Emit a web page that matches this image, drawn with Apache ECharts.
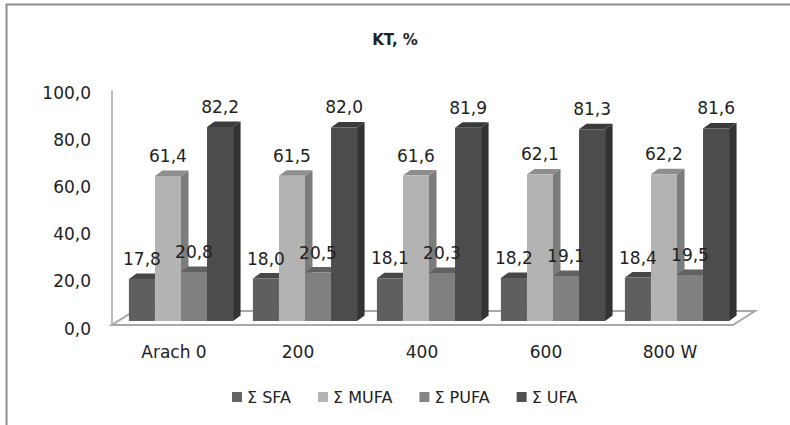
<!DOCTYPE html>
<html>
<head>
<meta charset="utf-8">
<script src="https://cdn.jsdelivr.net/npm/echarts@6/dist/echarts.min.js"></script>
<style>
  html, body { margin: 0; padding: 0; background: #ffffff; }
  #chart { width: 790px; height: 425px; }
</style>
</head>
<body>
<div id="chart"></div>
<script>
// Chart data
const categories = ['Arach 0', '200', '400', '600', '800 W'];
const seriesNames = ['Σ SFA', 'Σ MUFA', 'Σ PUFA', 'Σ UFA'];
const sfa  = [17.8, 18.0, 18.1, 18.2, 18.4];
const mufa = [61.4, 61.5, 61.6, 62.1, 62.2];
const pufa = [20.8, 20.5, 20.3, 19.1, 19.5];
const ufa  = [82.2, 82.0, 81.9, 81.3, 81.6];
const yTicks = [0, 20, 40, 60, 80, 100];

const seriesValues = [sfa, mufa, pufa, ufa];

// Box styling: front / top / side faces for each series
const faces = [
  { front: '#5f5f5f', top: '#474747', side: '#404040', legend: '#646464' },
  { front: '#b3b3b3', top: '#8e8e8e', side: '#7c7c7c', legend: '#b4b4b4' },
  { front: '#808080', top: '#616161', side: '#575757', legend: '#858585' },
  { front: '#4c4c4c', top: '#3a3a3a', side: '#323232', legend: '#505050' }
];

const GRID_LEFT = 119;
const GRID_RIGHT = 51;
const GRID_TOP = 85;
const GRID_BOTTOM = 104;
const BAR_FRAC = 0.21;   // share of a category band taken by one box
const DX = 7.5;          // depth offset of the 3D faces
const DY = -5.5;
const LABEL_GAP = 20;    // distance from the front top edge to the label centre
const FONT = '"DejaVu Sans", sans-serif';
const TEXT_COLOR = '#222222';

function fmt(v) {
  return Number(v).toFixed(1).replace('.', ',');
}

function makeRenderer(idx) {
  return function (params, api) {
    const ci = api.value(0);
    const v = api.value(1);
    const base = api.coord([ci, 0]);
    const topPt = api.coord([ci, v]);
    const w = api.size([1, 0])[0] * BAR_FRAC;
    const x0 = base[0] + (idx - 2) * w;
    const x1 = x0 + w;
    const yb = base[1];
    const yt = topPt[1];
    const c = faces[idx];
    return {
      type: 'group',
      children: [
        {
          type: 'polygon',
          shape: { points: [[x1, yb], [x1 + DX, yb + DY], [x1 + DX, yt + DY], [x1, yt]] },
          style: { fill: c.side }
        },
        {
          type: 'polygon',
          shape: { points: [[x0, yt], [x1, yt], [x1 + DX, yt + DY], [x0 + DX, yt + DY]] },
          style: { fill: c.top }
        },
        {
          type: 'rect',
          shape: { x: x0, y: yt, width: w, height: yb - yt },
          style: { fill: c.front }
        },
        {
          type: 'text',
          z2: 100,
          style: {
            text: fmt(v),
            x: (x0 + x1) / 2,
            y: yt - LABEL_GAP,
            align: 'center',
            verticalAlign: 'middle',
            font: '17px ' + FONT,
            fill: TEXT_COLOR
          }
        }
      ]
    };
  };
}

const chart = echarts.init(document.getElementById('chart'), null, { renderer: 'svg' });

chart.setOption({
  animation: false,
  backgroundColor: '#ffffff',
  title: {
    text: 'KT, %',
    left: 'center',
    top: 27,
    textStyle: { fontFamily: FONT, fontSize: 15, fontWeight: 'bold', color: TEXT_COLOR }
  },
  legend: {
    data: seriesNames,
    left: 227,
    top: 384,
    icon: 'rect',
    itemWidth: 10,
    itemHeight: 10,
    itemGap: 27,
    textStyle: { fontFamily: FONT, fontSize: 16, color: TEXT_COLOR }
  },
  grid: { left: GRID_LEFT, right: GRID_RIGHT, top: GRID_TOP, bottom: GRID_BOTTOM, containLabel: false },
  xAxis: {
    type: 'category',
    data: categories,
    axisLine: { show: false },
    axisTick: { show: false },
    axisLabel: {
      margin: 22,
      fontFamily: FONT,
      fontSize: 17,
      color: TEXT_COLOR,
      padding: [0, 14, 0, 0]
    }
  },
  yAxis: {
    type: 'value',
    min: yTicks[0],
    max: yTicks[yTicks.length - 1],
    interval: yTicks[1] - yTicks[0],
    axisLine: { show: false },
    axisTick: { show: false },
    splitLine: { show: false },
    axisLabel: {
      margin: 28,
      fontFamily: FONT,
      fontSize: 17,
      color: TEXT_COLOR,
      verticalAlign: 'top',
      lineHeight: 15,
      formatter: fmt
    }
  },
  series: seriesValues.map((vals, idx) => ({
    type: 'custom',
    name: seriesNames[idx],
    itemStyle: { color: faces[idx].legend },
    encode: { x: 0, y: 1 },
    renderItem: makeRenderer(idx),
    data: vals.map((v, i) => [i, v])
  }))
});

// Floor, side wall and outer frame drawn around the plotting area
const y0 = chart.convertToPixel({ yAxisIndex: 0 }, 0);
const y100 = chart.convertToPixel({ yAxisIndex: 0 }, 100);
const gl = GRID_LEFT;
const gr = 790 - GRID_RIGHT;
const frontY = y0 + 4;
const backY = y0 - 10;
const wallX = gl - 7;

chart.setOption({
  graphic: [
    {
      type: 'polygon',
      z: 0,
      shape: { points: [[wallX, frontY], [gr - 6, frontY], [gr + 16, backY], [gl + 15, backY]] },
      style: { fill: '#ffffff', stroke: '#a8a8a8', lineWidth: 2 }
    },
    {
      type: 'line',
      z: 0,
      shape: { x1: wallX, y1: y100 + 5, x2: wallX, y2: frontY },
      style: { stroke: '#a8a8a8', lineWidth: 1.5 }
    },
    {
      type: 'rect',
      z: 0,
      shape: { x: 6.5, y: 4.5, width: 900, height: 500 },
      style: { fill: 'none', stroke: '#8c8c8c', lineWidth: 2 }
    }
  ]
});
</script>
</body>
</html>
